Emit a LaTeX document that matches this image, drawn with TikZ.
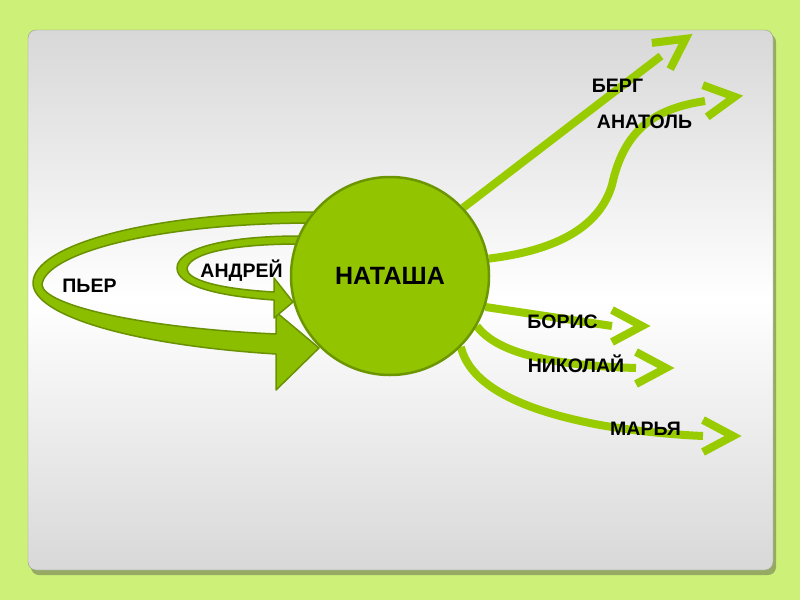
\documentclass[tikz,border=0pt]{standalone}
\usepackage{fontspec}
\setmainfont{Liberation Sans}
\usetikzlibrary{positioning,calc}
\definecolor{PageGreen}{RGB}{204,240,120}
\definecolor{PanelGray}{RGB}{216,216,216}
\definecolor{PanelEdge}{RGB}{150,160,130}
\definecolor{PanelShadow}{RGB}{150,170,100}
\definecolor{CircleGreen}{RGB}{146,196,0}
\definecolor{CircleEdge}{RGB}{108,150,0}
\definecolor{ArrowGreen}{RGB}{153,204,0}
\definecolor{RibbonGreen}{RGB}{140,190,0}
\definecolor{RibbonEdge}{RGB}{105,145,0}
\pgfdeclarelayer{panel}
\pgfdeclarelayer{back}
\pgfsetlayers{panel,back,main}

\begin{document}
\begin{tikzpicture}[x=1pt, y=-1pt,
  every node/.style={font=\bfseries\fontsize{19.5}{22}\selectfont, inner sep=0pt},
  link/.style={line width=8pt, ArrowGreen},
  ribbon/.style={fill=RibbonGreen, draw=RibbonEdge, line width=1.5pt, line join=round},
  chevron/.pic={\draw[line width=8pt, ArrowGreen, line join=miter] (0,-16) -- (30,0) -- (0,16);}]
\useasboundingbox (0,0) rectangle (800,600);
\begin{pgfonlayer}{panel}
\fill[PageGreen] (0,0) rectangle (800,600);
\fill[PanelShadow, rounded corners=8pt] (31,34) rectangle (776,575);
\draw[PanelEdge, top color=PanelGray, bottom color=PanelGray, middle color=white,
      rounded corners=8pt] (28,30) rectangle (773,570);
\end{pgfonlayer}

\node[circle, minimum size=198pt, fill=CircleGreen, draw=CircleEdge, line width=2.5pt,
      font=\bfseries\fontsize{25}{28}\selectfont] (nat) at (390,276) {НАТАША};

\coordinate (bergEnd) at (661,56);
\coordinate (anaEnd) at (705,101);
\coordinate (borEnd) at (612,326);
\coordinate (nikEnd) at (636,368);
\coordinate (marEnd) at (703,436);

\begin{pgfonlayer}{back}
% spiral ribbons
\draw[ribbon] (315,212) .. controls (150,212) and (33,245) .. (33,283)
  .. controls (33,315) and (130,345) .. (276,354) -- (276,390) -- (319,348)
  -- (276,312) -- (276,334) .. controls (140,328) and (44,305) .. (42,285)
  .. controls (44,255) and (150,223) .. (315,223) -- cycle;
\draw[ribbon] (300,236) .. controls (220,236) and (177,250) .. (177,268)
  .. controls (177,285) and (215,296) .. (274,300) -- (274,318) -- (293,302)
  -- (274,278) -- (274,292) .. controls (220,289) and (187,280) .. (187,269)
  .. controls (188,255) and (225,244) .. (300,244) -- cycle;
% links to the right
\draw[link] (nat.43) -- (bergEnd);
\draw[link] (nat.10) .. controls (560,250) and (600,225) .. (612,185)
  .. controls (625,125) and (660,108) .. (anaEnd);
\draw[link] (nat.-18) -- (borEnd);
\draw[link] (nat.-30) .. controls (495,350) and (540,365) .. (nikEnd);
\draw[link] (nat.-45) .. controls (470,385) and (520,410) .. (600,425)
  .. controls (640,432) and (680,435) .. (marEnd);
\pic[rotate=35] at (bergEnd) {chevron};
\pic[rotate=8] at (anaEnd) {chevron};
\pic at (borEnd) {chevron};
\pic at (nikEnd) {chevron};
\pic at (marEnd) {chevron};
\end{pgfonlayer}

\node[anchor=base] (pier) at (89.5,292) {ПЬЕР};
\node[anchor=base] (andr) at (241.5,277) {АНДРЕЙ};
\node[anchor=base] (berg) at (617.5,92) {БЕРГ};
\node[anchor=base] (anat) at (644.5,128) {АНАТОЛЬ};
\node[anchor=base] (bor) at (562.5,328) {БОРИС};
\node[anchor=base] (nik) at (576,372) {НИКОЛАЙ};
\node[anchor=base] (mar) at (645.5,435) {МАРЬЯ};
\end{tikzpicture}
\end{document}
